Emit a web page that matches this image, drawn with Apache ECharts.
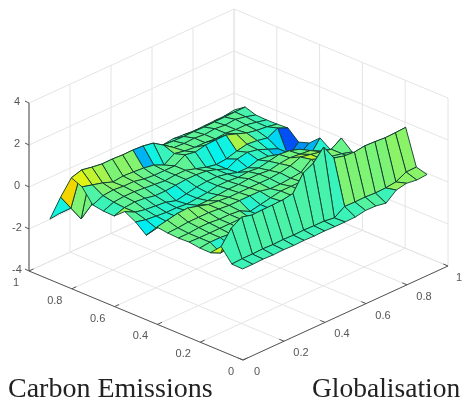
<!DOCTYPE html>
<html><head><meta charset="utf-8">
<style>html,body{margin:0;padding:0;background:#fff}#c{width:462px;height:401px;filter:blur(.35px)}</style>
<script src="https://cdn.jsdelivr.net/npm/echarts@6/dist/echarts.min.js"></script>
</head><body><div id="c"></div>
<script>
// rows: Carbon Emissions quantile; columns: Globalisation quantile
const taus=[.05,.1,.15,.2,.25,.3,.35,.4,.45,.5,.55,.6,.65,.7,.75,.8,.85,.9,.95];
const c05=[-.1,-.1,-.08,-.1,-.08,-.1,-.08,-.1,-.08,-.1,-.1,-.09,0,-.01,-.1,.3,.4,.33,.37];
const c10=[-.08,-.05,-.05,-.03,-.05,-.03,-.05,-.03,-.05,-.05,-.12,.2,.19,.2,.17,.19,.25,.5,.51];
const c15=[.54,1.2,1.5,1.37,1.39,1.4,1.42,1.5,2.25,2.5,3.04,2.3,2.17,2.13,2.2,2.18,2.14,2.16,2.19];
const c20=[.04,-.2,-.1,0,0,0,0,0,0,.05,.05,.1,.1,.1,.1,.1,.1,.1,.1];
const c25=[.05,.1,.1,.05,.05,.05,.05,0,0,.05,.05,.1,.1,.1,.1,.1,.1,.1,.1];
const c30=[.12,.1,.1,.1,.1,.1,-.1,-.2,-.1,.05,.1,.1,.1,.1,.1,.1,.1,.1,.1];
const c35=[.1,.1,.15,.15,.1,.1,.05,-.2,-.1,0,.1,.1,.1,.1,.2,.1,.1,.1,0];
const c40=[.13,.15,.2,.2,.2,.15,.1,.1,.1,.1,0,0,.05,.1,.5,.3,.2,.1,-.04];
const c45=[.2,.3,.4,.43,.3,.15,.1,.05,.05,.05,.05,.05,.1,.2,.4,.3,.2,.1,.41];
const c50=[-.4,-.3,-.2,-.2,-.15,-.1,-.1,-.05,0,0,.05,.05,0,.1,.15,.1,.05,-.2,-.37];
const c55=[.02,-.1,-.15,-.2,-.2,-.25,-.2,-.15,-.05,-.05,-.1,-.05,-.1,0,.1,.05,-.1,-.65,-.01];
const c60=[.3,.05,-.05,-.1,-.15,-.3,-.2,-.1,-.05,-.05,-.15,-.3,-.3,-.15,-.2,-.6,-.5,-.8,-.46];
const c65=[-.12,.05,.1,.05,-.05,-.05,0,.05,.05,0,-.15,-.35,-.1,0,-.1,-.3,-.5,-1.1,-.63];
const c70=[-.1,.1,.15,.15,.1,.05,0,.05,.05,-.1,-.25,-.35,-.3,-.15,-.05,-.1,-.2,.05,-.17];
const c75=[-.02,.2,.25,.2,.2,.1,.05,.05,.05,.35,.26,.37,.39,.4,.23,.05,-.05,-.1,-.2];
const c80=[.63,.5,.37,.19,.25,.22,.18,.1,-.12,.2,.1,.05,.05,0,.05,0,0,-.1,-.21];
const c85=[.85,1,.91,.84,.85,.82,.83,.8,.71,.39,.05,.02,.05,0,.05,0,.05,-.05,-.19];
const c90=[-.28,-1.03,-1.77,-1.33,-.5,-.3,-.3,-.3,-.3,-.2,-.04,-.07,-.08,-.07,-.08,-.06,-.05,-.03,-.02];
const c95=[-1.54,-1.48,-1.2,-.6,-.4,-.4,-.4,-.4,-.4,-.4,-.4,-.47,-.4,-.44,-.48,-.47,-.45,-.44,-.37];
const zRows=[c05,c10,c15,c20,c25,c30,c35,c40,c45,c50,c55,c60,c65,c70,c75,c80,c85,c90,c95];
// facets whose colour value differs from the height read at their corner: [g index, c index, colour value]
const facetTones=[[1,16,.2],[2,16,.15],[6,15,-.65],[7,15,-.3],[2,17,.2],[3,17,.2],[13,13,.4],[14,13,.25],[9,14,.05],[10,14,.05],[11,14,.05],[12,14,.05],[13,14,.05],[14,14,.05],[17,1,.25],[16,0,.25],[17,0,.25]];
const planeTicks=[0,.2,.4,.6,.8,1];
const planeLabels=['0','0.2','0.4','0.6','0.8','1'];
const zTicks=[-4,-2,0,2,4];
const zLabels=['-4','-2','0','2','4'];

// oblique projection of the 3D box onto the hidden 2D value axes
const O=[243,360],G=[205,-94],C=[-214,-89],Zs=-21,zFloor=-4;
const P=(g,c,z)=>[O[0]+G[0]*g+C[0]*c, O[1]+G[1]*g+C[1]*c+Zs*(z-zFloor)];
function jet(t){t=Math.max(0,Math.min(1,t));
 const f=v=>Math.round(243*Math.max(0,Math.min(1,1.5-Math.abs(4*t-v))));
 return `rgb(${f(3)},${f(2)},${f(1)})`;}
const tone=z=>.46+.23*z;

const lines=[]; // x1,y1,x2,y2,kind
const L=(a,b,k)=>lines.push([a[0],a[1],b[0],b[1],k]);
planeTicks.forEach(t=>{
  L(P(t,0,-4),P(t,1,-4),0); L(P(0,t,-4),P(1,t,-4),0);
  L(P(t,1,-4),P(t,1,4),0); L(P(1,t,-4),P(1,t,4),0);
});
zTicks.forEach(z=>{L(P(0,1,z),P(1,1,z),0);L(P(1,0,z),P(1,1,z),0);});
L(P(0,0,-4),P(1,0,-4),1); L(P(0,0,-4),P(0,1,-4),1); L(P(0,1,-4),P(0,1,4),2);
planeTicks.forEach(t=>{
  L(P(t,0,-4),P(t,.022,-4),1); L(P(0,t,-4),P(.022,t,-4),1);
});
zTicks.forEach(z=>{const p=P(0,1,z);L(p,[p[0]-4,p[1]-2],1);});

const cells=[];
for(let j=0;j<18;j++)for(let i=0;i<18;i++){
  const q=[[i,j],[i+1,j],[i+1,j+1],[i,j+1]].map(([a,b])=>P(taus[a],taus[b],zRows[b][a]));
  const o=facetTones.find(f=>f[0]==i&&f[1]==j);
  cells.push({d:taus[i]+taus[j],v:[...q.flat(),o?o[2]:zRows[j][i]]});
}
cells.sort((a,b)=>b.d-a.d);

const texts=[];
planeTicks.forEach((t,k)=>{
  let p=P(0,t,-4);texts.push([p[0]-17+(k==5?4:0)+(k==0?5:0),p[1]+12,planeLabels[k]]);
  p=P(t,0,-4);texts.push([p[0]+17-(k==5?6:0)-(k==0?3:0),p[1]+12,planeLabels[k]]);
});
zTicks.forEach((z,k)=>{const p=P(0,1,z);texts.push([p[0]-12,p[1]-1,zLabels[k]]);});

const chart=echarts.init(document.getElementById('c'),null,{renderer:'canvas'});
chart.setOption({
 animation:false,
 grid:{left:0,right:0,top:0,bottom:0},
 xAxis:{type:'value',min:0,max:462,show:false},
 yAxis:{type:'value',min:0,max:401,inverse:true,show:false},
 title:[
  {text:'Carbon Emissions',left:3,top:371,textStyle:{fontFamily:'Liberation Serif',fontSize:28,fontWeight:'normal',color:'#222'}},
  {text:'Globalisation',left:307,top:371,textStyle:{fontFamily:'Liberation Serif',fontSize:27.5,fontWeight:'normal',color:'#222'}}
 ],
 series:[
  {type:'custom',coordinateSystem:'cartesian2d',silent:true,data:lines,clip:false,
   renderItem:(p,api)=>{
     const a=api.coord([api.value(0),api.value(1)]),b=api.coord([api.value(2),api.value(3)]),k=api.value(4);
     return {type:'line',shape:{x1:a[0],y1:a[1],x2:b[0],y2:b[1]},
       style:{stroke:k==0?'#e4e4e4':k==1?'#555':'#888',lineWidth:k==2?1.6:1}};
   }},
  {type:'custom',coordinateSystem:'cartesian2d',silent:true,clip:false,
   data:cells.map(c=>c.v),
   renderItem:(p,api)=>{
     const pts=[0,2,4,6].map(k=>api.coord([api.value(k),api.value(k+1)]));
     return {type:'polygon',shape:{points:pts},
       style:{fill:jet(tone(api.value(8))),stroke:'#0c3a2c',lineWidth:.9}};
   }},
  {type:'custom',coordinateSystem:'cartesian2d',silent:true,clip:false,
   data:texts,
   renderItem:(p,api)=>{
     const a=api.coord([api.value(0),api.value(1)]);
     return {type:'text',x:a[0],y:a[1],style:{text:texts[p.dataIndex][2],fill:'#555',
       font:'11px "Liberation Sans"',textAlign:'center',textVerticalAlign:'middle'}};
   }}
 ]
});
</script></body></html>
